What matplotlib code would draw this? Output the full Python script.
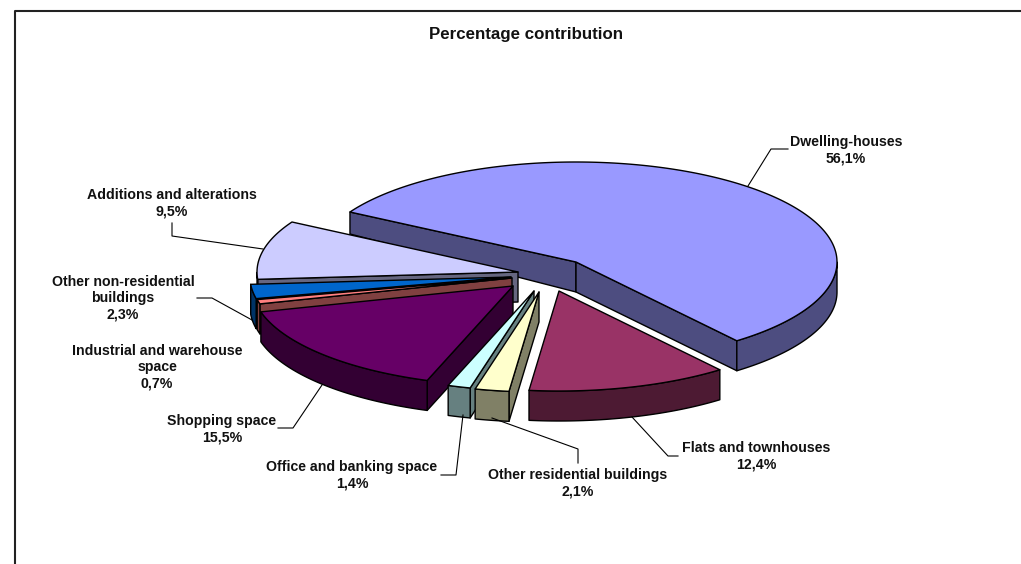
import numpy as np
import matplotlib
matplotlib.use('Agg')
import matplotlib.pyplot as plt
from matplotlib.patches import Polygon

plt.rcParams['font.family'] = ['Liberation Sans', 'DejaVu Sans']

names = ['Dwelling-houses', 'Flats and townhouses', 'Other residential buildings',
         'Office and banking space', 'Shopping space', 'Industrial and warehouse\nspace',
         'Other non-residential\nbuildings', 'Additions and alterations']
values = [56.1, 12.4, 2.1, 1.4, 15.5, 0.7, 2.3, 9.5]
top_colors = ['#9999FF', '#993366', '#FFFFCC', '#CCFFFF', '#660066', '#FF8080', '#0066CC', '#CCCCFF']
side_colors = ['#4D4D80', '#4D1A33', '#808066', '#668080', '#330033', '#804040', '#003366', '#666680']

# where each exploded slice has its tip, in pixels
tips = [(576, 262), (559, 291), (539, 292), (534, 291), (513, 286), (512, 278), (511, 277), (518, 272)]
# back to front
draw_order = [0, 7, 6, 5, 4, 3, 2, 1]

label_pos = [(846, 150), (756, 456), (578, 483), (352, 475), (222, 429), (157, 367), (123, 298), (172, 203)]
leaders = [[(748, 186), (771, 149), (788, 149)],
           [(632, 417), (668, 456), (678, 456)],
           [(492, 418), (578, 449), (578, 463)],
           [(463, 415), (456, 475), (441, 475)],
           [(322, 385), (293, 428), (278, 428)],
           None,
           [(252, 320), (212, 298), (197, 298)],
           [(263, 249), (172, 236), (172, 223)]]

start_angle = 150
rx, ry = 261, 100


def project(tip, ang):
    return tip[0] + rx * np.cos(ang), tip[1] - ry * np.sin(ang)


def depth(ang):
    # sides get shorter towards the back of the pie
    return 30 - 16 * np.maximum(np.sin(ang), 0)


fig = plt.figure(figsize=(10.21, 5.64), dpi=100)
ax = fig.add_axes([0, 0, 1, 1])
ax.set_xlim(0, 1021)
ax.set_ylim(564, 0)
ax.axis('off')

ax.plot([15, 15, 1021], [564, 10.5, 10.5], color='#222222', lw=1.5, solid_capstyle='butt')

edges = np.cumsum([0] + values) * 3.6
for i in draw_order:
    a0 = np.radians(start_angle - edges[i])
    a1 = np.radians(start_angle - edges[i + 1])
    n = max(int(abs(a1 - a0) * 60), 4)
    ang = np.linspace(a0, a1, n)
    x, y = project(tips[i], ang)
    d = depth(ang)
    tx, ty = tips[i]

    # only walls facing the viewer are drawn
    if x[0] < tx:
        ax.add_patch(Polygon([(tx, ty), (x[0], y[0]), (x[0], y[0] + d[0]), (tx, ty + 30)],
                             fc=side_colors[i], ec='black', lw=1, joinstyle='round'))
    if tx < x[-1]:
        ax.add_patch(Polygon([(tx, ty), (x[-1], y[-1]), (x[-1], y[-1] + d[-1]), (tx, ty + 30)],
                             fc=side_colors[i], ec='black', lw=1, joinstyle='round'))
    vis = np.where(np.diff(x) < 0)[0]
    if len(vis):
        j0, j1 = vis[0], vis[-1] + 1
        px = x[j0:j1 + 1]
        py = y[j0:j1 + 1]
        pd = d[j0:j1 + 1]
        pts = list(zip(px, py)) + list(zip(px[::-1], (py + pd)[::-1]))
        ax.add_patch(Polygon(pts, fc=side_colors[i], ec='black', lw=1, joinstyle='round'))
    ax.add_patch(Polygon([(tx, ty)] + list(zip(x, y)), fc=top_colors[i], ec='black', lw=1, joinstyle='round'))

for i in range(len(values)):
    if leaders[i]:
        lx, ly = zip(*leaders[i])
        ax.plot(lx, ly, color='black', lw=0.8)
    pct = f'{values[i]:.1f}%'.replace('.', ',')
    ax.text(label_pos[i][0], label_pos[i][1], names[i] + '\n' + pct, ha='center', va='center',
            fontsize=10.2, fontweight='bold', linespacing=1.2, color='#111111')

ax.text(526, 35, 'Percentage contribution', ha='center', va='center',
        fontsize=12.2, fontweight='bold', color='#111111')

fig.savefig('out.png', dpi=100)
